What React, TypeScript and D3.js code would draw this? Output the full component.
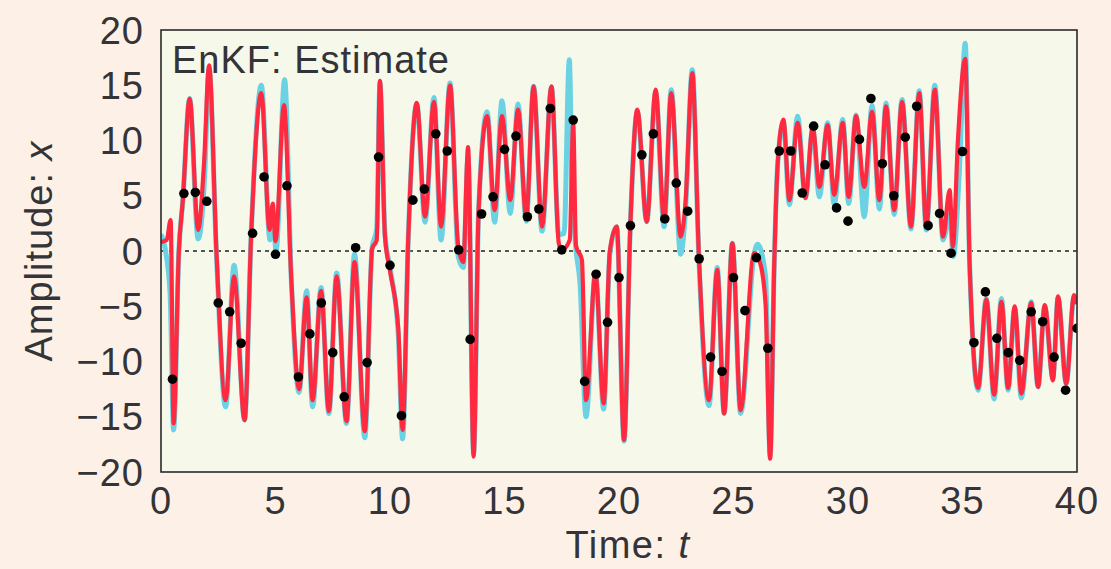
import React from "react";
import * as d3 from "d3";

// EnKF estimate of x(t): turning points [t, x]
const estimate: [number, number][] = [
  [0, 0.8], [0.25, 1.0], [0.42, 2.8], [0.55, -15.6], [0.78, 0], [0.95, 4.5], [1.25, 13.8],
  [1.62, 1.9], [1.88, 8.0], [2.1, 16.8], [2.42, 0], [2.82, -13.5], [3.19, -2.3], [3.65, -15.3],
  [3.94, 1.6], [4.38, 14.3], [4.74, 1.9], [4.88, 4.3], [5.0, 0.9], [5.37, 13.2], [5.69, -2.6],
  [6.03, -12.5], [6.36, -4.2], [6.62, -13.5], [6.99, -3.6], [7.33, -14.5], [7.67, -2.3],
  [8.1, -15.4], [8.45, -1.0], [8.9, -16.3], [9.22, 0.2], [9.42, 1.0], [9.56, 15.4], [9.78, 1.3],
  [10.0, -1.8], [10.36, -7.0], [10.55, -16.2], [10.8, 1.3], [11.17, 13.4], [11.53, 3.1],
  [11.92, 13.5], [12.23, 2.2], [12.62, 15.0], [12.98, 0.4], [13.2, -1.0], [13.41, 9.4],
  [13.65, -18.6], [13.87, 3.7], [14.24, 12.2], [14.57, 3.7], [14.89, 12.2], [15.25, 4.6],
  [15.59, 12.8], [15.95, 3.1], [16.27, 14.9], [16.64, 2.2], [17.05, 14.9], [17.37, 0.7],
  [17.5, 0.1], [17.85, 1.0], [18.0, 11.5], [18.12, 0.5], [18.38, -0.8], [18.56, -13.5],
  [18.97, -2.0], [19.33, -13.8], [19.6, 0], [19.9, 2.2], [20.22, -17.1], [20.5, 2.6],
  [20.8, 12.8], [21.21, 2.65], [21.6, 14.6], [21.97, 2.8], [22.28, 14.3], [22.69, 1.3],
  [22.9, 4.3], [23.2, 16.1], [23.49, -0.5], [23.93, -13.5], [24.29, -1.7], [24.59, -14.7],
  [24.95, 0.7], [25.31, -14.4], [25.9, -0.2], [26.15, -1.0], [26.4, -4.8], [26.6, -18.8],
  [26.78, -1.1], [26.93, 7.9], [27.18, 11.9], [27.44, 4.6], [27.8, 11.6], [28.14, 4.8],
  [28.46, 11.2], [28.75, 5.8], [29.11, 11.4], [29.4, 5.1], [29.77, 11.6], [30.03, 4.9],
  [30.35, 12.2], [30.71, 5.8], [31.05, 12.6], [31.37, 4.6], [31.66, 13.1], [32.02, 3.7],
  [32.36, 13.5], [32.75, 2.2], [33.11, 14.3], [33.42, 2.2], [33.79, 14.6], [34.15, 1.3],
  [34.44, 5.5], [34.58, 0.4], [34.8, 10.0], [35.12, 17.4], [35.31, -1.1], [35.68, -12.4],
  [36.04, -4.4], [36.38, -13.0], [36.7, -4.6], [36.99, -12.4], [37.28, -5.0], [37.57, -12.9],
  [38.0, -4.7], [38.3, -12.3], [38.59, -4.9], [38.95, -11.7], [39.17, -4.1], [39.53, -12.0],
  [39.87, -4.0], [40, -4.8],
];

// true trajectory (cyan), visible mostly where it pokes out of the estimate
const truth: [number, number][] = [
  [0, 1.5], [0.2, 0], [0.4, -4.0], [0.55, -16.2], [0.78, 0], [0.95, 4.5], [1.25, 13.8],
  [1.62, 1.1], [1.9, 6.5], [2.1, 16.5], [2.42, -0.3], [2.82, -14.1], [3.19, -1.3], [3.65, -15.3],
  [3.94, 1.6], [4.38, 15.0], [4.76, 1.0], [4.9, 3.3], [5.02, 0.0], [5.4, 15.5], [5.69, -2.6],
  [6.03, -12.8], [6.36, -3.6], [6.62, -14.1], [6.99, -3.3], [7.33, -14.7], [7.67, -2.0],
  [8.1, -15.6], [8.45, -0.3], [8.9, -16.9], [9.22, 0.3], [9.42, 2.0], [9.56, 15.2], [9.78, 1.5],
  [10.0, -1.5], [10.36, -7.5], [10.55, -17.0], [10.8, 1.3], [11.17, 13.3], [11.53, 2.6],
  [11.92, 13.9], [12.23, 1.0], [12.62, 15.2], [12.98, -0.5], [13.2, -1.5], [13.41, 8.5],
  [13.65, -18.3], [13.87, 3.7], [14.24, 12.6], [14.57, 2.6], [14.89, 13.6], [15.25, 3.4],
  [15.59, 13.3], [15.95, 2.7], [16.27, 14.9], [16.64, 1.8], [17.05, 14.8], [17.37, 1.5],
  [17.6, 1.6], [17.83, 17.3], [17.95, 6.0], [18.1, 0.6], [18.3, -3.0], [18.56, -15.0],
  [18.97, -2.0], [19.33, -14.3], [19.6, -0.3], [19.9, 2.2], [20.22, -17.2], [20.5, 2.6],
  [20.8, 12.6], [21.21, 2.65], [21.6, 14.3], [21.97, 2.2], [22.28, 14.6], [22.69, -0.3],
  [22.9, 3.5], [23.2, 16.4], [23.49, -0.8], [23.93, -14.0], [24.29, -1.5], [24.59, -14.7],
  [24.95, 0.7], [25.31, -14.7], [25.9, -0.3], [26.05, 0.6], [26.4, -2.3], [26.6, -18.5],
  [26.78, -1.1], [26.93, 7.9], [27.18, 11.6], [27.44, 4.2], [27.8, 12.2], [28.14, 4.8],
  [28.46, 11.0], [28.75, 4.9], [29.11, 11.6], [29.4, 4.2], [29.77, 11.9], [30.03, 4.3],
  [30.35, 12.3], [30.71, 3.1], [31.05, 13.2], [31.37, 3.8], [31.66, 13.4], [32.02, 3.3],
  [32.36, 13.7], [32.75, 2.0], [33.11, 14.5], [33.42, 1.9], [33.79, 15.0], [34.15, 1.0],
  [34.44, 3.3], [34.6, -0.5], [34.85, 6.7], [35.12, 18.8], [35.31, -1.1], [35.68, -12.6],
  [36.04, -4.3], [36.38, -13.4], [36.7, -4.3], [36.99, -12.6], [37.28, -5.2], [37.57, -13.3],
  [38.0, -4.6], [38.3, -12.3], [38.59, -5.0], [38.95, -11.5], [39.17, -4.2], [39.53, -12.0],
  [39.87, -4.2], [40, -4.8],
];

// noisy observations, one every 0.5 time units
const obsValues = [
  -11.6, 5.2, 5.3, 4.5, -4.7, -5.5, -8.35, 1.6, 6.7, -0.3,
  5.9, -11.4, -7.5, -4.7, -9.2, -13.2, 0.3, -10.1, 8.5, -1.3,
  -14.9, 4.6, 5.6, 10.6, 9.05, 0.1, -8.0, 3.35, 4.9, 9.2,
  10.4, 3.1, 3.8, 12.9, 0.1, 11.85, -11.8, -2.1, -6.45, -2.4,
  2.3, 8.7, 10.6, 2.9, 6.15, 3.6, -0.7, -9.6, -10.9, -2.4,
  -5.4, -0.6, -8.8, 9.05, 9.05, 5.25, 11.3, 7.8, 3.9, 2.7,
  10.1, 13.8, 7.9, 5.0, 10.3, 13.1, 2.3, 3.4, -0.2, 9.0,
  -8.3, -3.7, -7.9, -9.2, -9.9, -5.5, -6.4, -9.6, -12.6, -7.0,
];
const obsTimes = obsValues.map((_, i) => (i + 1) * 0.5);

const xTicks = [0, 5, 10, 15, 20, 25, 30, 35, 40];
const yTicks = [20, 15, 10, 5, 0, -5, -10, -15, -20];

const W = 1111;
const H = 569;
const plot = { left: 161, right: 1077, top: 30, bottom: 472 };
const font = "'Liberation Sans', Arial, Helvetica, sans-serif";
const ink = "#333338";

const App: React.FC = () => {
  const x = d3.scaleLinear().domain([0, 40]).range([plot.left, plot.right]);
  const y = d3.scaleLinear().domain([-20, 20]).range([plot.bottom, plot.top]);

  const line = d3
    .line<[number, number]>()
    .x((d) => x(d[0]))
    .y((d) => y(d[1]))
    .curve(d3.curveMonotoneX);

  const fmt = (v: number) => (v < 0 ? "\u2212" + Math.abs(v) : String(v));

  return (
    <svg
      width={W}
      height={H}
      style={{ position: "absolute", left: 0, top: 0 }}
      fontFamily={font}
    >
      <rect width={W} height={H} fill="#fdf1e7" />
      <clipPath id="plotClip">
        <rect
          x={plot.left}
          y={plot.top}
          width={plot.right - plot.left}
          height={plot.bottom - plot.top}
        />
      </clipPath>
      <rect
        x={plot.left}
        y={plot.top}
        width={plot.right - plot.left}
        height={plot.bottom - plot.top}
        fill="#f6f8ea"
      />

      <g clipPath="url(#plotClip)">
        <line
          x1={plot.left}
          x2={plot.right}
          y1={y(0)}
          y2={y(0)}
          stroke="#222"
          strokeWidth={1.6}
          strokeDasharray="4,4"
        />
        <path d={line(truth) ?? ""} fill="none" stroke="#6ad2e2" strokeWidth={5} strokeLinejoin="round" />
        <path d={line(estimate) ?? ""} fill="none" stroke="#ff2a3f" strokeWidth={4.2} strokeLinejoin="round" />
        {obsValues.map((v, i) => (
          <circle key={i} cx={x(obsTimes[i])} cy={y(v)} r={4.8} fill="#000" />
        ))}
      </g>

      <rect
        x={plot.left}
        y={plot.top}
        width={plot.right - plot.left}
        height={plot.bottom - plot.top}
        fill="none"
        stroke="#2a2a2a"
        strokeWidth={1.6}
      />

      <text x={172} y={73} fontSize={38} letterSpacing={1} fill={ink}>
        EnKF: Estimate
      </text>

      {yTicks.map((v) => (
        <text
          key={v}
          x={144}
          y={y(v)}
          dy="0.36em"
          textAnchor="end"
          fontSize={38}
          letterSpacing={1}
          fill={ink}
        >
          {fmt(v)}
        </text>
      ))}
      {xTicks.map((v) => (
        <text
          key={v}
          x={x(v)}
          y={514}
          textAnchor="middle"
          fontSize={38}
          letterSpacing={1}
          fill={ink}
        >
          {v}
        </text>
      ))}

      <text x={628} y={558} textAnchor="middle" fontSize={38} letterSpacing={1.5} fill={ink}>
        Time: <tspan fontStyle="italic">t</tspan>
      </text>
      <text
        transform={`translate(52,${y(0)}) rotate(-90)`}
        textAnchor="middle"
        fontSize={38}
        letterSpacing={1}
        fill={ink}
      >
        Amplitude: <tspan fontStyle="italic">x</tspan>
      </text>
    </svg>
  );
};

export default App;
